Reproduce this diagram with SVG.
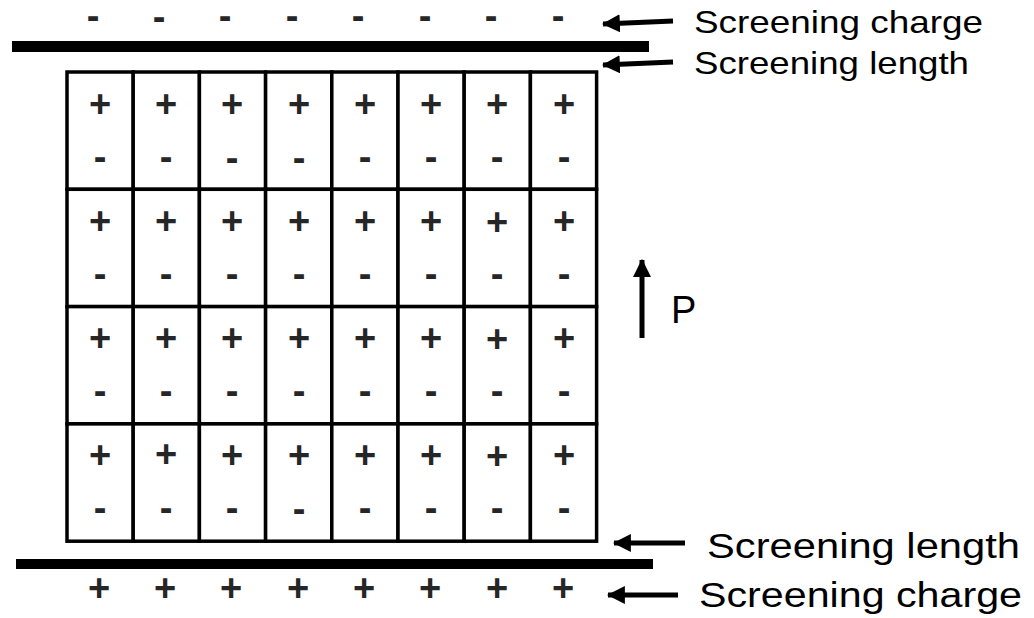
<svg xmlns="http://www.w3.org/2000/svg" width="1034" height="618" viewBox="0 0 1034 618">
<style>
.cell{fill:#fff;stroke:#000;stroke-width:3.5}
.sg{font-family:"Liberation Sans",Arial,sans-serif;font-weight:bold;font-size:38px;fill:#262626;text-anchor:middle}
.lbl{font-family:"Liberation Sans",Arial,sans-serif;fill:#000}
.bar{fill:#000}
.arr{stroke:#000;stroke-width:5;fill:none;marker-end:url(#ah)}
</style>
<defs>
<marker id="ah" markerUnits="userSpaceOnUse" markerWidth="18" markerHeight="18" viewBox="0 0 16 16" refX="15" refY="8" orient="auto">
<path d="M0,0 L16,8 L0,16 Z" fill="#000"/>
</marker>
</defs>
<g id="top-charges">
<text class="sg" x="93" y="29">-</text><text class="sg" x="159" y="30">-</text><text class="sg" x="225" y="29">-</text><text class="sg" x="292" y="29">-</text><text class="sg" x="358" y="29">-</text><text class="sg" x="425" y="29">-</text><text class="sg" x="491" y="29">-</text><text class="sg" x="558" y="29">-</text>
</g>
<g id="top-electrode"><rect class="bar" x="12" y="41" width="637" height="11"/></g>
<g id="grid">
<rect class="cell" x="67" y="72" width="66.2" height="117.3"/><rect class="cell" x="133.2" y="72" width="66.2" height="117.3"/><rect class="cell" x="199.4" y="72" width="66.2" height="117.3"/><rect class="cell" x="265.6" y="72" width="66.2" height="117.3"/><rect class="cell" x="331.8" y="72" width="66.2" height="117.3"/><rect class="cell" x="398" y="72" width="66.2" height="117.3"/><rect class="cell" x="464.2" y="72" width="66.2" height="117.3"/><rect class="cell" x="530.4" y="72" width="66.2" height="117.3"/>
<rect class="cell" x="67" y="189.3" width="66.2" height="117.3"/><rect class="cell" x="133.2" y="189.3" width="66.2" height="117.3"/><rect class="cell" x="199.4" y="189.3" width="66.2" height="117.3"/><rect class="cell" x="265.6" y="189.3" width="66.2" height="117.3"/><rect class="cell" x="331.8" y="189.3" width="66.2" height="117.3"/><rect class="cell" x="398" y="189.3" width="66.2" height="117.3"/><rect class="cell" x="464.2" y="189.3" width="66.2" height="117.3"/><rect class="cell" x="530.4" y="189.3" width="66.2" height="117.3"/>
<rect class="cell" x="67" y="306.6" width="66.2" height="117.3"/><rect class="cell" x="133.2" y="306.6" width="66.2" height="117.3"/><rect class="cell" x="199.4" y="306.6" width="66.2" height="117.3"/><rect class="cell" x="265.6" y="306.6" width="66.2" height="117.3"/><rect class="cell" x="331.8" y="306.6" width="66.2" height="117.3"/><rect class="cell" x="398" y="306.6" width="66.2" height="117.3"/><rect class="cell" x="464.2" y="306.6" width="66.2" height="117.3"/><rect class="cell" x="530.4" y="306.6" width="66.2" height="117.3"/>
<rect class="cell" x="67" y="423.9" width="66.2" height="117.3"/><rect class="cell" x="133.2" y="423.9" width="66.2" height="117.3"/><rect class="cell" x="199.4" y="423.9" width="66.2" height="117.3"/><rect class="cell" x="265.6" y="423.9" width="66.2" height="117.3"/><rect class="cell" x="331.8" y="423.9" width="66.2" height="117.3"/><rect class="cell" x="398" y="423.9" width="66.2" height="117.3"/><rect class="cell" x="464.2" y="423.9" width="66.2" height="117.3"/><rect class="cell" x="530.4" y="423.9" width="66.2" height="117.3"/>
</g>
<g id="dipoles">
<g id="row1">
<text class="sg" x="100" y="117">+</text><text class="sg" x="166" y="117">+</text><text class="sg" x="232" y="117">+</text><text class="sg" x="299" y="117">+</text><text class="sg" x="365" y="117">+</text><text class="sg" x="431" y="117">+</text><text class="sg" x="497" y="117">+</text><text class="sg" x="564" y="117">+</text>
<text class="sg" x="100" y="170">-</text><text class="sg" x="166" y="170">-</text><text class="sg" x="232" y="171">-</text><text class="sg" x="299" y="171">-</text><text class="sg" x="365" y="170">-</text><text class="sg" x="431" y="170">-</text><text class="sg" x="497" y="170">-</text><text class="sg" x="564" y="170">-</text>
</g>
<g id="row2">
<text class="sg" x="100" y="234">+</text><text class="sg" x="166" y="234">+</text><text class="sg" x="232" y="234">+</text><text class="sg" x="299" y="234">+</text><text class="sg" x="365" y="234">+</text><text class="sg" x="431" y="234">+</text><text class="sg" x="497" y="235">+</text><text class="sg" x="564" y="234">+</text>
<text class="sg" x="100" y="287">-</text><text class="sg" x="166" y="287">-</text><text class="sg" x="232" y="287">-</text><text class="sg" x="299" y="287">-</text><text class="sg" x="365" y="287">-</text><text class="sg" x="431" y="287">-</text><text class="sg" x="497" y="287">-</text><text class="sg" x="564" y="287">-</text>
</g>
<g id="row3">
<text class="sg" x="100" y="351">+</text><text class="sg" x="166" y="351">+</text><text class="sg" x="232" y="351">+</text><text class="sg" x="299" y="351">+</text><text class="sg" x="365" y="351">+</text><text class="sg" x="431" y="351">+</text><text class="sg" x="497" y="352">+</text><text class="sg" x="564" y="351">+</text>
<text class="sg" x="100" y="404">-</text><text class="sg" x="166" y="404">-</text><text class="sg" x="232" y="404">-</text><text class="sg" x="299" y="404">-</text><text class="sg" x="365" y="404">-</text><text class="sg" x="431" y="404">-</text><text class="sg" x="497" y="404">-</text><text class="sg" x="564" y="404">-</text>
</g>
<g id="row4">
<text class="sg" x="100" y="468">+</text><text class="sg" x="166" y="467">+</text><text class="sg" x="232" y="468">+</text><text class="sg" x="299" y="468">+</text><text class="sg" x="365" y="468">+</text><text class="sg" x="431" y="468">+</text><text class="sg" x="497" y="469">+</text><text class="sg" x="564" y="468">+</text>
<text class="sg" x="100" y="521">-</text><text class="sg" x="166" y="521">-</text><text class="sg" x="232" y="521">-</text><text class="sg" x="299" y="522">-</text><text class="sg" x="365" y="521">-</text><text class="sg" x="431" y="521">-</text><text class="sg" x="497" y="521">-</text><text class="sg" x="564" y="521">-</text>
</g>
</g>
<g id="bottom-electrode"><rect class="bar" x="16" y="559" width="637" height="10"/></g>
<g id="bottom-charges">
<text class="sg" x="99" y="601">+</text><text class="sg" x="165" y="601">+</text><text class="sg" x="231" y="601">+</text><text class="sg" x="298" y="601">+</text><text class="sg" x="364" y="601">+</text><text class="sg" x="430" y="601">+</text><text class="sg" x="497" y="601">+</text><text class="sg" x="563" y="601">+</text>
</g>
<g id="connectors">
<line class="arr" x1="673" y1="21" x2="603" y2="24"/>
<line class="arr" x1="673" y1="62" x2="603" y2="65"/>
<line class="arr" x1="685" y1="543" x2="614" y2="543"/>
<line class="arr" x1="678" y1="595" x2="608" y2="595"/>
<line class="arr" x1="642" y1="338" x2="642" y2="260"/>
</g>
<g id="labels">
<text class="lbl" x="694" y="33" font-size="32" textLength="289" lengthAdjust="spacingAndGlyphs">Screening charge</text>
<text class="lbl" x="694" y="74" font-size="32" textLength="275" lengthAdjust="spacingAndGlyphs">Screening length</text>
<text class="lbl" x="707" y="558" font-size="35" textLength="313" lengthAdjust="spacingAndGlyphs">Screening length</text>
<text class="lbl" x="699" y="607" font-size="35" textLength="323" lengthAdjust="spacingAndGlyphs">Screening charge</text>
<text class="lbl" x="671" y="323" font-size="38">P</text>
</g>
</svg>
